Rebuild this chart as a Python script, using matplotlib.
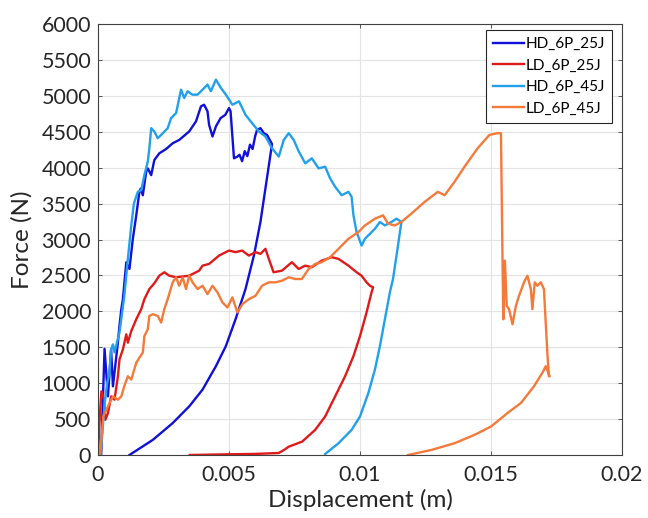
import matplotlib
matplotlib.use("Agg")
import matplotlib.pyplot as plt

# displacement (m) / force (N)
hd25_x = [0.00012, 0.00025, 0.00038, 0.0005, 0.00057, 0.00076, 0.00082, 0.00089, 0.00095, 0.00108,
          0.0012, 0.00133, 0.00146, 0.00158, 0.00163, 0.00171, 0.00184, 0.0019, 0.00203, 0.00215,
          0.00234, 0.0026, 0.00285, 0.0031, 0.00348, 0.00374, 0.00393, 0.00405, 0.00418, 0.00424,
          0.00437, 0.0045, 0.00468, 0.00486, 0.005, 0.00506, 0.00519, 0.00532, 0.0054, 0.0055,
          0.0056, 0.0057, 0.0058, 0.0059, 0.006, 0.00607, 0.0062, 0.00633, 0.00645, 0.00664,
          0.00658, 0.00639, 0.0062, 0.00595, 0.00563, 0.00525, 0.00488, 0.0045, 0.00399, 0.00348,
          0.00285, 0.00209, 0.0012]
hd25_f = [0, 1480, 816, 1470, 956, 1568, 1800, 2030, 2170, 2684,
          2590, 3010, 3336, 3664, 3710, 3616, 3944, 3990, 3896, 4106,
          4200, 4260, 4340, 4386, 4504, 4644, 4854, 4876, 4784, 4596,
          4434, 4574, 4690, 4736, 4830, 4784, 4130, 4154, 4180, 4090,
          4230, 4160, 4320, 4260, 4440, 4526, 4550, 4480, 4456, 4330,
          4176, 3710, 3244, 2776, 2310, 1890, 1516, 1236, 910, 676,
          444, 210, 0]

ld25_x = [0.0, 0.00006, 0.00013, 0.00023, 0.00028, 0.00038, 0.0005, 0.00063, 0.00076, 0.00082,
          0.00095, 0.00108, 0.00114, 0.00127, 0.00146, 0.00165, 0.00177, 0.00196, 0.00215, 0.00234,
          0.00253, 0.00272, 0.00298, 0.00348, 0.00386, 0.00399, 0.00424, 0.00462, 0.005, 0.00525,
          0.0055, 0.00576, 0.00601, 0.0062, 0.00639, 0.00652, 0.0067, 0.00702, 0.0074, 0.00766,
          0.00791, 0.00816, 0.00854, 0.00892, 0.00918, 0.00956, 0.00987, 0.01006, 0.01025, 0.01038,
          0.0105, 0.01044, 0.01025, 0.01, 0.00975, 0.00943, 0.00905, 0.00867, 0.00829, 0.00779,
          0.00728, 0.0071, 0.0069, 0.006, 0.005, 0.0035]
ld25_f = [0, 490, 886, 770, 490, 584, 816, 770, 1096, 1330,
          1470, 1680, 1564, 1726, 1890, 2030, 2170, 2310, 2390, 2496,
          2544, 2496, 2474, 2496, 2566, 2636, 2660, 2776, 2846, 2824,
          2846, 2776, 2824, 2800, 2870, 2730, 2544, 2566, 2684, 2590,
          2636, 2614, 2706, 2754, 2730, 2636, 2544, 2496, 2404, 2356,
          2334, 2264, 1984, 1656, 1376, 1096, 816, 536, 350, 186,
          116, 70, 28, 15, 10, 0]

hd45_x = [0.0001, 0.00025, 0.00035, 0.00044, 0.0005, 0.00057, 0.00063, 0.00082, 0.001, 0.00114,
          0.00127, 0.00137, 0.00152, 0.00165, 0.00177, 0.0019, 0.00196, 0.00203, 0.00215, 0.00228,
          0.00241, 0.00266, 0.00279, 0.00298, 0.00317, 0.00329, 0.00342, 0.0036, 0.0038, 0.00399,
          0.00418, 0.00431, 0.0045, 0.00469, 0.00488, 0.00513, 0.00538, 0.00563, 0.00588, 0.00614,
          0.00639, 0.00664, 0.0069, 0.00709, 0.00728, 0.00747, 0.00766, 0.00791, 0.00816, 0.00842,
          0.00867, 0.00886, 0.00905, 0.0093, 0.00956, 0.00968, 0.00975, 0.00987, 0.01006, 0.01019,
          0.01057, 0.01076, 0.01095, 0.0112, 0.01139, 0.01158,
          0.01145, 0.01126, 0.01114, 0.01095, 0.01076, 0.01057, 0.01032, 0.01, 0.00968, 0.00918,
          0.00867]
hd45_f = [0, 700, 1000, 1150, 1470, 1540, 1428, 1708, 2200, 2730,
          3196, 3500, 3664, 3686, 3896, 4084, 4270, 4550, 4504, 4410,
          4456, 4550, 4690, 4760, 5086, 4970, 5064, 5016, 5016, 5086,
          5156, 5064, 5226, 5110, 5016, 4876, 4924, 4736, 4620, 4504,
          4434, 4270, 4154, 4386, 4480, 4386, 4228, 4060, 4130, 3990,
          4014, 3850, 3734, 3616, 3664, 3594, 3336, 3104, 2916, 3010,
          3150, 3244, 3196, 3244, 3290, 3244,
          2916, 2450, 2264, 1890, 1516, 1190, 864, 536, 350, 164,
          14]

ld45_x = [0.00006, 0.00013, 0.0002, 0.00032, 0.00044, 0.00057, 0.00076, 0.00089, 0.001, 0.00114,
          0.00127, 0.00146, 0.00158, 0.00171, 0.00177, 0.0019, 0.00196, 0.00209, 0.00228, 0.00241,
          0.00253, 0.00266, 0.00285, 0.00298, 0.0031, 0.00323, 0.00336, 0.00348, 0.00361, 0.0038,
          0.00399, 0.00418, 0.00437, 0.00456, 0.00475, 0.00494, 0.00513, 0.00532, 0.00551, 0.00576,
          0.00601, 0.00626, 0.00652, 0.00677, 0.00702, 0.00728, 0.00753, 0.00778, 0.00804, 0.00829,
          0.00854, 0.00886, 0.00918, 0.00956, 0.00994, 0.01019, 0.01057, 0.01088, 0.01107, 0.01133,
          0.01158, 0.01196, 0.01247, 0.01297, 0.01323, 0.01361, 0.01399, 0.01449, 0.01494, 0.01525,
          0.01538, 0.01543, 0.01547, 0.01553, 0.0156, 0.01569, 0.01582, 0.01595, 0.01607, 0.01626,
          0.01639, 0.01652, 0.01658, 0.01667, 0.01677, 0.0169, 0.01702, 0.01715, 0.01721, 0.01724,
          0.01709, 0.01696, 0.01664, 0.01614, 0.01563, 0.015, 0.01437, 0.01361, 0.01272, 0.01183]
ld45_f = [0, 210, 536, 630, 724, 816, 770, 816, 956, 1096,
          1050, 1284, 1354, 1424, 1656, 1750, 1936, 1960, 1936, 1844,
          2030, 2170, 2404, 2474, 2356, 2474, 2310, 2496, 2404, 2310,
          2356, 2240, 2356, 2264, 2124, 2054, 2194, 1984, 2100, 2170,
          2216, 2356, 2404, 2404, 2426, 2474, 2450, 2450, 2590, 2660,
          2684, 2754, 2870, 3010, 3104, 3196, 3290, 3336, 3220, 3196,
          3244, 3360, 3524, 3664, 3616, 3804, 4014, 4270, 4456, 4480,
          4480, 3000, 1890, 2706, 2076, 2030, 1820, 2076, 2216, 2404,
          2496, 2310, 2030, 2404, 2356, 2404, 2310, 1424, 1096, 1096,
          1236, 1144, 956, 724, 584, 396, 280, 164, 70, 0]

labels = ["HD_6P_25J", "LD_6P_25J", "HD_6P_45J", "LD_6P_45J"]
colors = ["#1010D8", "#E01A1A", "#22A0EC", "#F47A3A"]

plt.rcParams['font.family'] = ['Lato', 'DejaVu Sans']

fig = plt.figure(figsize=(6.48, 5.18), dpi=100)
ax = fig.add_axes([98 / 648, 1 - 455 / 518, 524 / 648, 431 / 518])

series = [(hd25_x, hd25_f), (ld25_x, ld25_f), (hd45_x, hd45_f), (ld45_x, ld45_f)]
for (xs, fs), lab, col in zip(series, labels, colors):
    ax.plot(xs, fs, color=col, linewidth=1.7, label=lab)

ax.set_xlim(0, 0.02)
ax.set_ylim(0, 6000)
ax.set_xticks([0, 0.005, 0.01, 0.015, 0.02])
ax.set_xticklabels(["0", "0.005", "0.01", "0.015", "0.02"])
ax.set_yticks(range(0, 6001, 500))

ax.grid(True, color="#e3e3e3", linewidth=0.8)
ax.set_axisbelow(True)
for sp in ax.spines.values():
    sp.set_color("#404040")
    sp.set_linewidth(0.8)
ax.tick_params(direction="in", length=3, width=0.6, colors="#404040",
               labelcolor="#262626", labelsize=15.5, top=True, right=True)
ax.tick_params(axis="x", pad=7)
ax.tick_params(axis="y", pad=5)

ax.set_xlabel("Displacement (m)", fontsize=17.5, color="#262626", labelpad=3)
ax.set_ylabel("Force (N)", fontsize=17.5, color="#262626", labelpad=6)

leg = ax.legend(loc="upper right", bbox_to_anchor=(0.981, 0.986), borderaxespad=0,
                fontsize=11, handlelength=2.0, handletextpad=0.15, borderpad=0.45,
                labelspacing=0.5, fancybox=False, framealpha=1)
leg.get_frame().set_edgecolor("#262626")
leg.get_frame().set_linewidth(0.8)

fig.savefig("out.png", dpi=100)
